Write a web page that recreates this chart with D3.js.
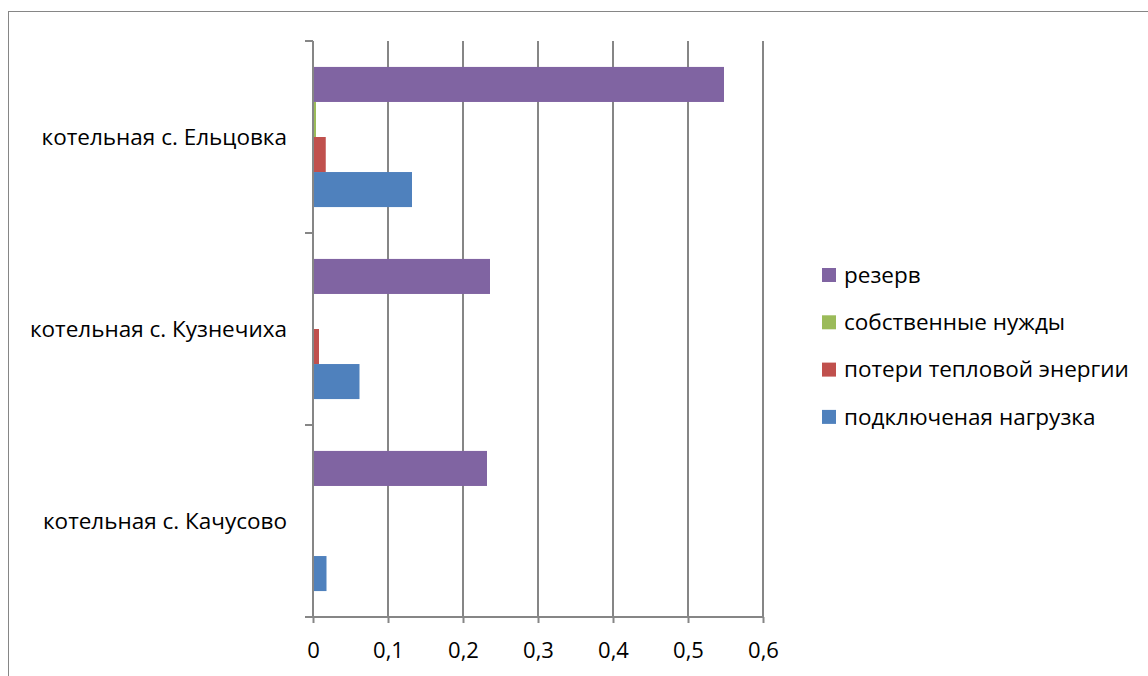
<!DOCTYPE html>
<html lang="ru">
<head>
    <meta charset="UTF-8">
    <title>Котельные</title>
    <style>
        body{ margin:0; background:#fff; }
        text{ font-family:"Open Sans","Noto Sans",sans-serif; fill:#000; }
    </style>
    <script src="https://cdn.jsdelivr.net/npm/d3@7/dist/d3.min.js"></script>
</head>
<body>
<div id="container"></div>
<script>
    // categories top -> bottom
    var categories = ['котельная с. Ельцовка', 'котельная с. Кузнечиха', 'котельная с. Качусово'];
    // series in draw order inside each group (top -> bottom), same as legend
    var seriesNames = ['резерв', 'собственные нужды', 'потери тепловой энергии', 'подключеная нагрузка'];
    var seriesColors = ['#8064a2', '#9bbb59', '#c0504d', '#4f81bd'];
    var reserve  = [0.548, 0.236, 0.232];
    var ownNeeds = [0.004, 0.0004, 0.0003];
    var losses   = [0.017, 0.008, 0.001];
    var load     = [0.132, 0.062, 0.018];
    var xTicks = [0, 0.1, 0.2, 0.3, 0.4, 0.5, 0.6];

    var seriesValues = [reserve, ownNeeds, losses, load];
    var w = 1148, h = 676;
    var pLeft = 313, pRight = 763, pTop = 41, pBottom = 617;

    var svg = d3.select('#container').append('svg').attr('width', w).attr('height', h);

    // outer chart border
    svg.append('rect').attr('x', 8.5).attr('y', 11.5).attr('width', 1160).attr('height', 700)
        .attr('fill', 'none').attr('stroke', '#868686').attr('stroke-width', 1);

    var x = d3.scaleLinear().domain([0, 0.6]).range([pLeft, pRight]);
    var y = d3.scaleBand().domain(categories).range([pTop, pBottom]).paddingInner(0).paddingOuter(0);
    var inner = d3.scaleBand().domain(seriesNames).range([0, y.bandwidth()]).paddingInner(0).paddingOuter(0.74);

    // vertical gridlines
    svg.append('g').selectAll('line').data(xTicks.slice(1)).enter().append('line')
        .attr('x1', function (d) { return x(d); }).attr('x2', function (d) { return x(d); })
        .attr('y1', pTop).attr('y2', pBottom)
        .attr('stroke', '#868686').attr('stroke-width', 2);

    // bars
    var groups = svg.append('g').selectAll('g').data(categories).enter().append('g')
        .attr('transform', function (d) { return 'translate(0,' + y(d) + ')'; });
    groups.selectAll('rect').data(function (d, i) {
        return seriesNames.map(function (s, j) { return {s: s, v: seriesValues[j][i], c: seriesColors[j]}; });
    }).enter().append('rect')
        .attr('x', x(0))
        .attr('y', function (d) { return inner(d.s); })
        .attr('width', function (d) { return x(d.v) - x(0); })
        .attr('height', inner.bandwidth())
        .attr('fill', function (d) { return d.c; });

    // x axis
    var xAxis = d3.axisBottom(x).tickValues(xTicks).tickSize(6).tickPadding(19)
        .tickFormat(function (d) { return String(d).replace('.', ','); });
    var gx = svg.append('g').attr('transform', 'translate(0,' + pBottom + ')').call(xAxis);
    gx.select('.domain').attr('d', 'M' + (pLeft - 8) + ',0H' + pRight).attr('stroke', '#868686').attr('stroke-width', 2);
    gx.selectAll('.tick line').attr('stroke', '#868686').attr('stroke-width', 2);
    gx.selectAll('.tick text').attr('font-size', 22).attr('font-family', '"Open Sans",sans-serif').attr('fill', '#000');

    // y axis
    var gy = svg.append('g').attr('transform', 'translate(' + pLeft + ',0)');
    gy.append('line').attr('x1', 0).attr('x2', 0).attr('y1', pTop).attr('y2', pBottom)
        .attr('stroke', '#868686').attr('stroke-width', 2);
    gy.selectAll('.cat-tick').data(d3.range(categories.length + 1)).enter().append('line')
        .attr('x1', -8).attr('x2', 0)
        .attr('y1', function (i) { return pTop + i * y.bandwidth(); })
        .attr('y2', function (i) { return pTop + i * y.bandwidth(); })
        .attr('stroke', '#868686').attr('stroke-width', 2);
    gy.selectAll('text').data(categories).enter().append('text')
        .attr('x', -26)
        .attr('y', function (d) { return y(d) + y.bandwidth() / 2; })
        .attr('dy', '0.35em')
        .attr('text-anchor', 'end')
        .attr('font-size', 22.5)
        .text(function (d) { return d; });

    // legend
    var legend = svg.append('g').attr('transform', 'translate(822,268)');
    var items = legend.selectAll('g').data(seriesNames).enter().append('g')
        .attr('transform', function (d, i) { return 'translate(0,' + (i * 47.3) + ')'; });
    items.append('rect').attr('width', 14).attr('height', 14)
        .attr('fill', function (d, i) { return seriesColors[i]; });
    items.append('text').attr('x', 22).attr('y', 7).attr('dy', '0.35em')
        .attr('font-size', 22.5)
        .text(function (d) { return d; });
</script>
</body>
</html>
